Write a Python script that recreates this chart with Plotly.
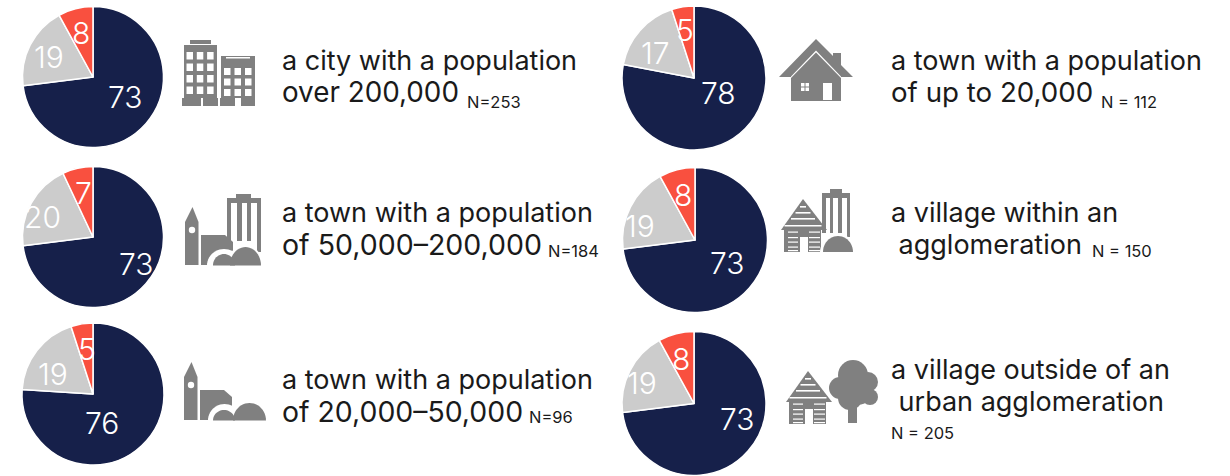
import math
import plotly.graph_objects as go

W, H = 1230, 476
SEG_LABELS = ["Navy", "Grey", "Red"]
SEG_COLORS = ["#16204a", "#cccccc", "#f9503f"]
NAVY = [73, 73, 76, 78, 73, 73]
GREY = [19, 20, 19, 17, 19, 19]
RED = [8, 7, 5, 5, 8, 8]
LINE1 = ["a city with a population", "a town with a population", "a town with a population",
         "a town with a population", "a village within an", "a village outside of an"]
LINE2 = ["over 200,000", "of 50,000–200,000", "of 20,000–50,000",
         "of up to 20,000", " agglomeration", " urban agglomeration"]
NOTES = ["N=253", "N=184", "N=96", "N = 112", "N = 150", "N = 205"]

CENTERS = [(93, 77), (93, 237), (93, 394), (694, 78), (695, 240), (694, 403.5)]
RADII = [70.5, 70.5, 71, 72, 72.5, 72]
LABEL_XY = [
    [(125, 97), (49, 57), (81, 33)],
    [(136, 264), (42, 217), (83, 193)],
    [(102, 423), (53, 374), (87, 349)],
    [(718, 93), (655, 53), (685, 30)],
    [(727, 263), (640, 226), (683, 195)],
    [(737, 419), (642, 383), (681, 359)],
]
TEXT_X = [280, 280, 280, 889, 889, 889]
TEXT_Y = [60, 212, 379, 60, 212, 369]
LINE2_SIZE = [27.8, 28.5, 28.4, 27.7, 27, 27]
NOTE_XY = [(465, 102), (546, 251), (527, 417), (1099, 102), (1090, 251), (889, 433)]
GREY_ICON = "#808080"
WHITE = "#ffffff"
FONT = "Inter"

fig = go.Figure()
shapes, ann = [], []

def poly(pts, color=GREY_ICON):
    path = "M " + " L ".join(f"{x},{y}" for x, y in pts) + " Z"
    shapes.append(dict(type="path", path=path, fillcolor=color, line=dict(width=0), xref="x", yref="y", layer="above"))

def rect(x0, y0, x1, y1, color=GREY_ICON):
    shapes.append(dict(type="rect", x0=x0, y0=y0, x1=x1, y1=y1, fillcolor=color, line=dict(width=0), xref="x", yref="y", layer="above"))

def circ(cx, cy, r, color=GREY_ICON):
    shapes.append(dict(type="circle", x0=cx-r, y0=cy-r, x1=cx+r, y1=cy+r, fillcolor=color, line=dict(width=0), xref="x", yref="y", layer="above"))

def dome(x0, x1, yb, top, color=GREY_ICON):
    cx, r = (x0 + x1) / 2, (x1 - x0) / 2
    h = yb - top
    pts = [(cx - r * math.cos(math.pi * i / 24), yb - h * math.sin(math.pi * i / 24)) for i in range(25)]
    poly(pts, color)

def office():
    rect(184, 45, 217, 98); rect(190, 40, 211, 44)
    rect(182, 98, 201, 106); rect(203, 98, 218, 106)
    for r in range(4):
        for c in range(3):
            rect(186.5 + c * 10.3, 52 + r * 11.5, 193 + c * 10.3, 59.5 + r * 11.5, WHITE)
    rect(221, 56, 255, 98)
    rect(226, 57, 250, 58.5, WHITE)
    rect(220, 98, 235, 106); rect(241, 98, 255, 106)
    for r in range(3):
        for c in range(3):
            rect(224 + c * 10.5, 68 + r * 10.5, 230.5 + c * 10.5, 75 + r * 10.5, WHITE)

def church(dx, dy):
    poly([(185+dx,222+dy),(192.5+dx,207+dy),(198.5+dx,222+dy),(198.5+dx,265+dy),(185+dx,265+dy)])
    circ(192+dx, 230+dy, 3.2, WHITE)
    poly([(201+dx,235+dy),(225+dx,235+dy),(233+dx,242+dy),(233+dx,265+dy),(201+dx,265+dy)])

def town_big():
    church(0, 0)
    for x0, x1 in [(227, 231), (237, 242), (247, 251)]:
        rect(x0, 199, x1, 241)
    rect(227, 198, 261, 203); rect(236, 194, 251, 199)
    rect(257, 199, 261, 252)
    dome(207, 241, 265.5, 249, WHITE)
    rect(207, 264.5, 241, 267, WHITE)
    dome(227, 263, 265.5, 245, WHITE)
    dome(230, 261, 265.5, 247)
    dome(213, 235, 265.5, 254)

def town_small():
    church(-1, 155)
    dome(208, 241, 420.5, 404, WHITE)
    rect(207, 420.5, 241, 423, WHITE)
    dome(233, 266, 420.5, 403)
    dome(213, 235, 420.5, 410)

def house():
    poly([(779,77),(816,39),(833,56),(833,53),(841,53),(841,65),(853,77)])
    rect(791, 77, 841, 101)
    poly([(791,76.5),(816,50.5),(841,76.5),(841,78),(816,52.5),(791,78)], WHITE)
    rect(801, 83, 809, 91, WHITE); rect(804.5, 83, 805.5, 91); rect(801, 86.5, 809, 87.5)
    rect(823, 83, 832, 100, WHITE)

def log_house(dx, dy):
    poly([(781+dx,230+dy),(803+dx,199+dy),(827+dx,230+dy)])
    rect(784+dx, 230+dy, 821+dx, 252+dy)
    for i, y in enumerate([206, 212, 218, 225]):
        half = 3 + i * 4.5 + (i == 3) * 2
        rect(803+dx-half, y+dy, 803+dx+half, y+1.6+dy, WHITE)
    for y in [231.5, 237, 241.5, 246.5, 250]:
        rect(788+dx, y+dy, 798+dx, y+1.2+dy, WHITE)
        rect(809+dx, y+dy, 820+dx, y+1.2+dy, WHITE)
    rect(800+dx, 237+dy, 808+dx, 252+dy, WHITE)

def village_agg():
    for x0, x1 in [(822, 826), (830, 833), (838, 842)]:
        rect(x0, 194, x1, 233)
    rect(847, 194, 850, 237)
    rect(822, 193, 850, 198); rect(830, 189, 842, 194)
    log_house(0, 0)
    dome(820, 856, 252.5, 234, WHITE)
    dome(823, 853, 252, 236)

def village_tree():
    log_house(5, 172)
    rect(848, 405, 857, 423)
    for cx, cy, r in [(853, 375, 15), (868, 382, 10), (870, 397, 8), (840, 388, 11), (850, 398, 12), (858, 390, 15)]:
        circ(cx, cy, r)

icons = [office, town_big, town_small, house, village_agg, village_tree]

for i in range(6):
    cx, cy = CENTERS[i]
    r = RADII[i]
    vals = [NAVY[i], GREY[i], RED[i]]
    fig.add_trace(go.Pie(
        values=vals, labels=SEG_LABELS, sort=False, direction="clockwise", rotation=0,
        marker=dict(colors=SEG_COLORS, line=dict(color=WHITE, width=1.5)),
        textinfo="none", showlegend=False, hoverinfo="label+value",
        domain=dict(x=[(cx - r) / W, (cx + r) / W], y=[max(0, 1 - (cy + r) / H), min(1, 1 - (cy - r) / H)]),
    ))
    for v, (lx, ly) in zip(vals, LABEL_XY[i]):
        ann.append(dict(x=lx, y=ly, text=str(v), xref="x", yref="y", showarrow=False, xanchor="center", yanchor="middle",
                        font=dict(family=FONT, size=30, color=WHITE, weight=300)))
    icons[i]()
    ann.append(dict(x=TEXT_X[i], y=TEXT_Y[i], text=LINE1[i], xref="x", yref="y", showarrow=False,
                    xanchor="left", yanchor="middle", font=dict(family=FONT, size=27, color="#1a1a1a")))
    ann.append(dict(x=TEXT_X[i], y=TEXT_Y[i] + 32, text=LINE2[i], xref="x", yref="y", showarrow=False,
                    xanchor="left", yanchor="middle", font=dict(family=FONT, size=LINE2_SIZE[i], color="#1a1a1a")))
    nx, ny = NOTE_XY[i]
    ann.append(dict(x=nx, y=ny, text=NOTES[i], xref="x", yref="y", showarrow=False, xanchor="left", yanchor="middle",
                    font=dict(family=FONT, size=16.5, color="#1a1a1a")))

fig.update_layout(
    width=W, height=H, margin=dict(l=0, r=0, t=0, b=0), paper_bgcolor=WHITE, plot_bgcolor=WHITE,
    xaxis=dict(range=[0, W], visible=False, fixedrange=True),
    yaxis=dict(range=[H, 0], visible=False, fixedrange=True),
    shapes=shapes, annotations=ann,
)
fig.write_html("out.html", config=dict(displayModeBar=False),
               post_script="document.body.style.margin='0';document.documentElement.style.overflow='hidden';")
